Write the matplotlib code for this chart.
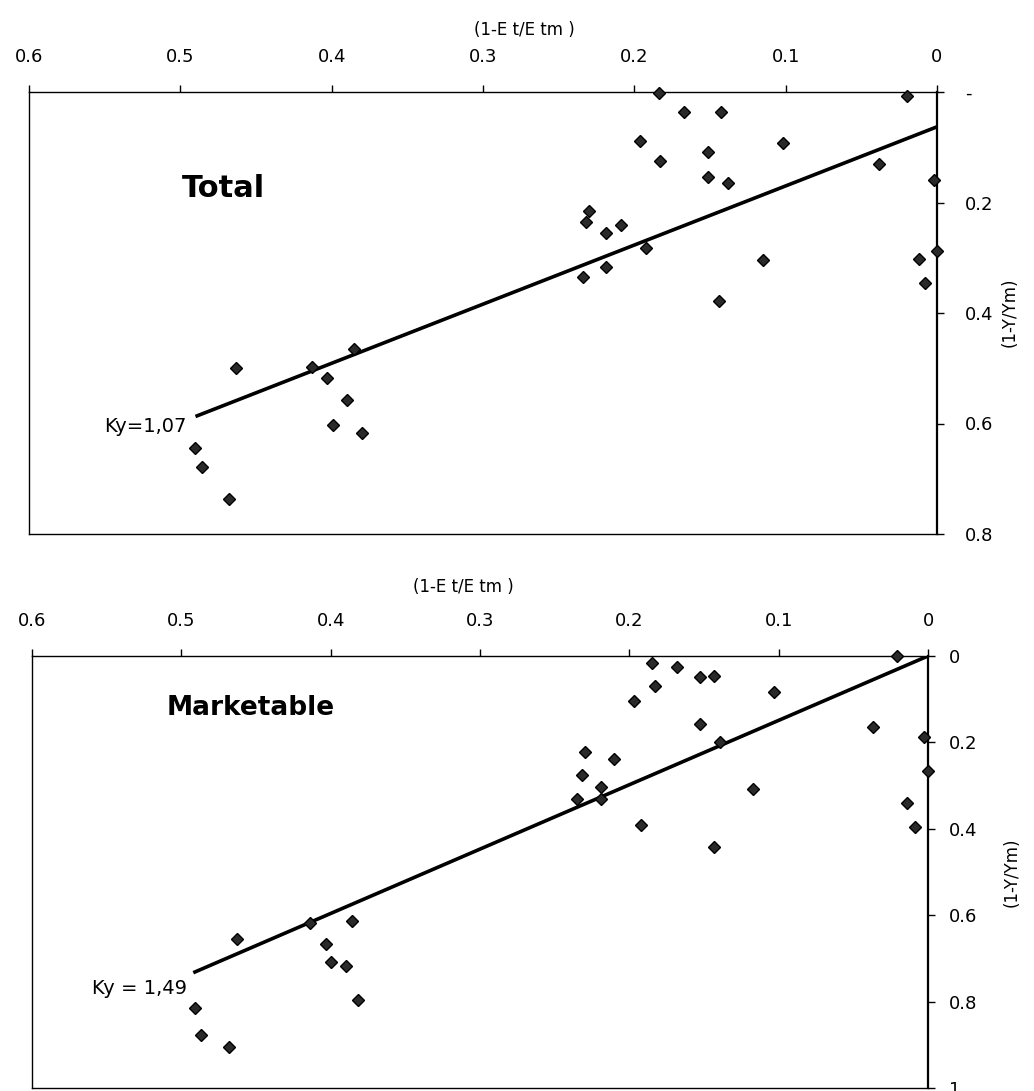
import matplotlib
matplotlib.use("Agg")
import matplotlib.pyplot as plt
import numpy as np

plt.rcParams['font.family'] = ['DejaVu Sans']

# ---------------- data ----------------
x_ticks = [0.6, 0.5, 0.4, 0.3, 0.2, 0.1, 0.0]
x_ticklabels = ['0.6', '0.5', '0.4', '0.3', '0.2', '0.1', '0']

total_yticks = [0.0, 0.2, 0.4, 0.6, 0.8]
total_yticklabels = ['-', '0.2', '0.4', '0.6', '0.8']
market_yticks = [0.0, 0.2, 0.4, 0.6, 0.8, 1.0]
market_yticklabels = ['0', '0.2', '0.4', '0.6', '0.8', '1']

total_x = [0.184, 0.020, 0.167, 0.143, 0.196, 0.102, 0.151, 0.183, 0.038,
           0.151, 0.138, 0.002, 0.230, 0.232, 0.209, 0.219, 0.192, 0.000,
           0.115, 0.012, 0.219, 0.234, 0.008, 0.144,
           0.463, 0.385, 0.413, 0.403, 0.390, 0.399, 0.380, 0.490, 0.486, 0.468]
total_y = [0.002, 0.007, 0.037, 0.037, 0.089, 0.092, 0.109, 0.125, 0.130,
           0.154, 0.165, 0.159, 0.216, 0.236, 0.241, 0.256, 0.282, 0.287,
           0.304, 0.303, 0.317, 0.334, 0.346, 0.378,
           0.499, 0.465, 0.498, 0.518, 0.557, 0.603, 0.617, 0.644, 0.679, 0.737]

market_x = [0.021, 0.185, 0.168, 0.153, 0.143, 0.183, 0.103, 0.197, 0.153,
            0.037, 0.139, 0.003, 0.230, 0.210, 0.232, 0.000, 0.219, 0.117,
            0.235, 0.219, 0.014, 0.192, 0.009, 0.143,
            0.463, 0.414, 0.386, 0.403, 0.400, 0.390, 0.382, 0.491, 0.487, 0.468]
market_y = [0.000, 0.017, 0.025, 0.049, 0.046, 0.069, 0.083, 0.105, 0.158,
            0.165, 0.198, 0.187, 0.223, 0.238, 0.276, 0.267, 0.304, 0.307,
            0.330, 0.331, 0.341, 0.392, 0.395, 0.441,
            0.655, 0.617, 0.613, 0.667, 0.709, 0.717, 0.796, 0.814, 0.877, 0.904]

# regression lines: y = intercept + Ky * x over [x_min, x_max]
total_intercept, total_ky = 0.063, 1.07
market_intercept, market_ky = 0.0, 1.49
total_fit_x = [0.0, 0.490]
market_fit_x = [0.0, 0.492]

# ---------------- figure ----------------
W, H = 1034, 1091
fig = plt.figure(figsize=(W / 100, H / 100), dpi=100)


def px_axes(l, t, r, b):
    return fig.add_axes([l / W, 1 - b / H, (r - l) / W, (b - t) / H])


def style(ax, yticks, yticklabels, ylim, ypad, xpad):
    ax.set_xlim(0.6, 0.0)
    ax.set_ylim(ylim, 0.0)
    ax.xaxis.tick_top()
    ax.yaxis.tick_right()
    ax.set_xticks(x_ticks)
    ax.set_xticklabels(x_ticklabels)
    ax.set_yticks(yticks)
    ax.set_yticklabels(yticklabels)
    ax.tick_params(axis='x', direction='out', length=5, width=1, pad=xpad,
                   labelsize=13, colors='black')
    ax.tick_params(axis='y', direction='out', length=5, width=1, pad=ypad,
                   labelsize=13, colors='black')
    for s in ['top', 'left', 'bottom']:
        ax.spines[s].set_linewidth(1.0)
    ax.spines['right'].set_linewidth(1.6)
    ax.set_facecolor('white')


marker_kw = dict(marker='D', linestyle='none', markersize=6.3,
                 markerfacecolor='#2a2a2a', markeredgecolor='#000000',
                 markeredgewidth=1.0, zorder=3, clip_on=False)

# ---- Total ----
ax1 = px_axes(29, 92, 937, 534)
style(ax1, total_yticks, total_yticklabels, 0.8, ypad=15, xpad=14)
fx = np.array(total_fit_x)
ax1.plot(fx, total_intercept + total_ky * fx, color='black', lw=2.6,
         solid_capstyle='butt', zorder=2)
ax1.plot(total_x, total_y, **marker_kw)
ax1.text(0.499, 0.174, 'Total', fontsize=22, fontweight='bold',
         ha='left', va='center')
ax1.text(0.4957, 0.606, 'Ky=1,07', fontsize=14, ha='right', va='center')

# ---- Marketable ----
ax2 = px_axes(32, 656, 928, 1088)
style(ax2, market_yticks, market_yticklabels, 1.0, ypad=10, xpad=14)
fx = np.array(market_fit_x)
ax2.plot(fx, market_intercept + market_ky * fx, color='black', lw=2.6,
         solid_capstyle='butt', zorder=2)
ax2.plot(market_x, market_y, **marker_kw)
ax2.text(0.5097, 0.120, 'Marketable', fontsize=19, fontweight='bold',
         ha='left', va='center')
ax2.text(0.4963, 0.769, 'Ky = 1,49', fontsize=14, ha='right', va='center')

# axis titles
fig.text(524 / W, 1 - 30 / H, '(1-E t/E tm )', fontsize=12, ha='center', va='center')
fig.text(463 / W, 1 - 587 / H, '(1-E t/E tm )', fontsize=12, ha='center', va='center')
fig.text(1010 / W, 1 - 312 / H, '(1-Y/Ym)', fontsize=12, rotation=90,
         ha='center', va='center')
fig.text(1012 / W, 1 - 872 / H, '(1-Y/Ym)', fontsize=12, rotation=90,
         ha='center', va='center')

fig.savefig('out.png', dpi=100, facecolor='white')
